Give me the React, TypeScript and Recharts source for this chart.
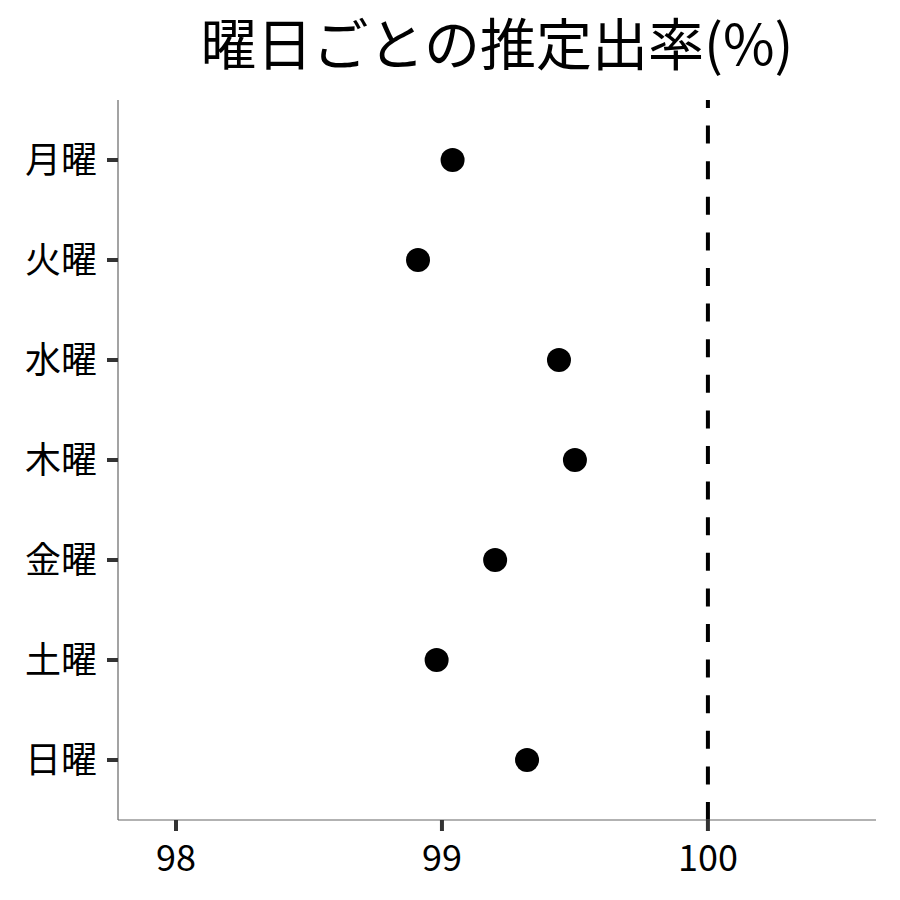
import React from 'react';
import { ScatterChart, Scatter, XAxis, YAxis, ReferenceLine } from 'recharts';

const days = ['月曜', '火曜', '水曜', '木曜', '金曜', '土曜', '日曜'];
const rates = [99.04, 98.91, 99.44, 99.5, 99.2, 98.98, 99.32];
const xTicks = [98, 99, 100];
const yTicks = [1, 2, 3, 4, 5, 6, 7];
const title = '曜日ごとの推定出率(%)';

const data = days.map((d, i) => ({ day: d, pos: i + 1, rate: rates[i] }));

const FONT = '"Noto Sans CJK JP", "Noto Sans", sans-serif';

export default function App() {
  return (
    <div style={{ position: 'absolute', left: 0, top: 0, width: 900, height: 900, background: '#fff', fontFamily: FONT }}>
      <div
        style={{
          position: 'absolute',
          left: 0,
          top: 6,
          width: 994,
          textAlign: 'center',
          fontSize: 56,
          lineHeight: '70px',
          color: '#000',
          fontFamily: FONT,
        }}
      >
        {title}
      </div>
      <ScatterChart width={900} height={900} margin={{ top: 100, right: 24, bottom: 0, left: 0 }}>
        <XAxis
          type="number"
          dataKey="rate"
          domain={[97.782, 100.632]}
          ticks={xTicks}
          allowDataOverflow
          axisLine={{ stroke: '#666', strokeWidth: 1.2 }}
          tickLine={{ stroke: '#333', strokeWidth: 4 }}
          tickSize={11}
          tick={{ fill: '#000', fontSize: 36, fontFamily: FONT, dy: 12 }}
          height={80}
        />
        <YAxis
          type="number"
          dataKey="pos"
          domain={[0.4, 7.6]}
          ticks={yTicks}
          reversed
          allowDataOverflow
          width={118}
          axisLine={{ stroke: '#666', strokeWidth: 1.2 }}
          tickLine={{ stroke: '#333', strokeWidth: 4 }}
          tickSize={11}
          tickFormatter={(v: number) => days[v - 1]}
          tick={{ fill: '#000', fontSize: 36, fontFamily: FONT, dx: -8 }}
        />
        <ReferenceLine
          segment={[{ x: 100, y: 7.6 }, { x: 100, y: 0.4 }]}
          stroke="#000"
          strokeWidth={4}
          strokeDasharray="18 17.6"
          ifOverflow="hidden"
        />
        <Scatter data={data} fill="#000" isAnimationActive={false} shape={(p: any) => <circle cx={p.cx} cy={p.cy} r={12} fill="#000" />} />
      </ScatterChart>
    </div>
  );
}
